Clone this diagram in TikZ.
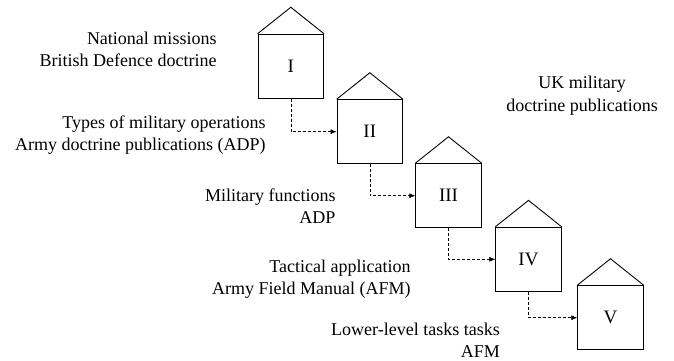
\documentclass[tikz,border=0pt]{standalone}
\usepackage{fontspec}
\setmainfont{Liberation Serif}
\usetikzlibrary{arrows.meta}
\begin{document}
\begin{tikzpicture}[x=1pt,y=-1pt,
  house/.style={draw,line width=0.9pt,minimum width=65.5pt,minimum height=64pt,inner sep=0pt,font=\fontsize{19}{22}\selectfont},
  lbl/.style={inner sep=0pt,align=right,anchor=base east,font=\fontsize{18}{22}\selectfont},
  lblc/.style={inner sep=0pt,align=center,anchor=base,font=\fontsize{18}{23}\selectfont},
  conn/.style={line width=0.6pt,dash pattern=on 3pt off 2pt,-{Latex[length=6pt,width=5pt]}}]
\useasboundingbox (0,0) rectangle (674,360);
\node[house] (b1) at (290.8,66.2) {I};
\node[house] (b2) at (369.8,131.7) {II};
\node[house] (b3) at (448.5,195.7) {III};
\node[house] (b4) at (528.5,259.3) {IV};
\node[house] (b5) at (610.5,317.7) {V};
\foreach \b in {b1,b2,b3,b4,b5}{
  \draw[line width=0.9pt,line join=miter] (\b.north west) -- ([yshift=26.5pt]\b.north) -- (\b.north east);
}
\draw[conn] (b1.south) |- (b2.west);
\draw[conn] (b2.south) |- (b3.west);
\draw[conn] (b3.south) |- (b4.west);
\draw[conn] (b4.south) |- (b5.west);
\node[lbl] (t1) at (216.7,66) {National missions\\British Defence doctrine};
\node[lbl] (t2) at (265.7,150) {Types of military operations\\Army doctrine publications (ADP)};
\node[lbl] (t3) at (335.7,223.3) {Military functions\\ADP};
\node[lbl] (t4) at (410.7,294) {Tactical application\\Army Field Manual (AFM)};
\node[lbl] (t5) at (500,357.3) {Lower-level tasks tasks\\AFM};
\node[lblc] (t6) at (582,111.7) {UK military\\doctrine publications};
\end{tikzpicture}
\end{document}
